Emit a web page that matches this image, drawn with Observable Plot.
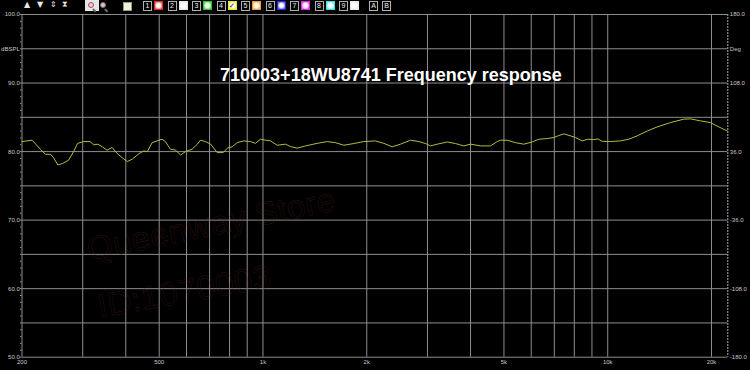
<!DOCTYPE html>
<html><head><meta charset="utf-8">
<script src="https://cdn.jsdelivr.net/npm/d3@7"></script>
<script src="https://cdn.jsdelivr.net/npm/@observablehq/plot@0.6"></script>
<style>
html,body{margin:0;padding:0;background:#000;}
#wrap{position:relative;width:750px;height:370px;overflow:hidden;background:#000;}
#tb{position:absolute;left:0;top:0;width:750px;height:12px;font-family:"DejaVu Sans","Liberation Sans",Arial,sans-serif;}
.t{position:absolute;top:0px;font-size:8px;line-height:10px;color:#e8e8e8;}
.zbox{position:absolute;top:0px;width:14px;height:11px;background:#e6e6e6;}
.mag{position:absolute;top:2px;width:4px;height:4px;border:1.5px solid #b04a5a;border-radius:50%;background:#f2c8d0;}
.mag::after{content:"";position:absolute;left:4px;top:4.5px;width:4px;height:1.6px;background:#6a6a6a;transform:rotate(45deg);transform-origin:left center;}
.cb{position:absolute;top:2px;width:7px;height:7px;background:#f4f2d6;border:1px solid #9a9a8a;}
.nb{position:absolute;top:1px;width:7px;height:8px;border:1px solid #b0b0b0;color:#f0f0f0;font:7px/8px "Liberation Sans",Arial,sans-serif;text-align:center;}
.cs{position:absolute;top:1px;width:9px;height:9px;box-sizing:border-box;border:1px solid #888;}
.wm{position:absolute;font:33px/1 "Liberation Sans",Arial,sans-serif;color:transparent;-webkit-text-stroke:0.5px rgba(95,32,32,0.55);transform-origin:0 0;white-space:nowrap;letter-spacing:0.5px;}
</style></head>
<body>
<div id="wrap">
  <div id="chart"></div>
  <div class="wm" style="left:84px;top:233px;transform:rotate(-11.5deg)">Queenway Store</div>
  <div class="wm" style="left:95px;top:290px;transform:rotate(-10deg)">ID:1070003</div>
  <div id="tb">
    <span class="t" style="left:24px">▲</span>
    <span class="t" style="left:37px">▼</span>
    <span class="t" style="left:50px">⇕</span>
    <span class="t" style="left:62px">⧗</span>
    <div class="zbox" style="left:85px"></div>
    <div class="mag" style="left:88px"></div>
    <div class="mag" style="left:100px;background:#d8c0c8;border-color:#8a6a70"></div>
    <div class="cb" style="left:123px"></div>
  </div>
</div>
<script>
// ---- data ----
const title = "710003+18WU8741 Frequency response";
const freq = [200,214,226,234,242,247,254,262,273,283,290,302,315,323,332,342,353,365,378,395,404,418,437,451,462,477,493,510,521,539,558,577,596,623,645,659,681,705,737,767,788,814,842,880,920,951,984,1017,1052,1100,1163,1202,1257,1329,1437,1536,1623,1716,1834,1961,2120,2242,2370,2506,2680,2832,2962,3062,3202,3424,3618,3824,4000,4276,4571,4780,4886,5110,5402,5710,6040,6312,6676,6976,7212,7458,7798,8064,8432,8754,9112,9360,9638,10186,10890,11512,12178,13020,13918,15210,16624,17386,18586,19866,21000,22220];
const spl = [81.46,81.66,80.35,79.6,79.6,79.1,78.05,78.25,78.75,80.1,81.2,81.46,81.46,80.98,81.08,80.7,80.2,80.6,79.7,78.9,78.55,78.9,79.7,80.1,80.0,81.3,81.56,81.8,81.46,80.35,80.2,79.5,80.0,80.35,81.08,81.66,81.46,81.08,79.85,79.85,80.5,80.7,81.3,81.56,81.46,81.2,81.8,81.66,81.56,80.93,81.08,80.73,80.5,80.83,81.2,81.46,81.3,80.93,81.17,81.46,81.56,81.2,80.7,81.08,81.66,81.46,81.17,80.83,81.08,81.4,81.17,80.83,81.08,80.83,80.83,81.46,81.66,81.66,81.3,81.08,81.4,81.8,81.9,82.05,82.34,82.58,82.3,82.05,81.56,81.8,81.75,81.85,81.5,81.46,81.56,81.8,82.3,83.0,83.6,84.23,84.73,84.77,84.48,84.23,83.6,83.0];
const xDomain = [200, 22300];
const yDomain = [50, 100];
const gridFreqs = [300,400,500,600,700,800,900,1000,2000,3000,4000,5000,6000,7000,8000,9000,10000,20000];
const gridDb = [50,55,60,65,70,75,80,85,90,95,100];
const xTickValues = [200,500,1000,2000,5000,6000,10000,20000];
const xTickLabels = ["200","500","1k","2k","5k","Hz","10k","20k"];
const dbTickValues = [100,95,90,80,70,60,50];
const dbTickLabels = ["100.0","dBSPL","90.0","80.0","70.0","60.0","50.0"];
const degTickLabels = ["180.0","Deg","108.0","36.0","-36.0","-108.0","-180.0"];
const channelLabels = ["1","2","3","4","5","6","7","8","9"];
const channelColors = ["#e02828","#e8e8e8","#28c828","#e8e828","#f0a030","#2828e0","#e028e0","#40e0e0","#e8e8e8"];

// ---- toolbar ----
const tb = document.getElementById("tb");
channelLabels.forEach((lab, i) => {
  const x = 143 + i * 24.5;
  const nb = document.createElement("div");
  nb.className = "nb"; nb.style.left = x + "px"; nb.textContent = lab;
  tb.appendChild(nb);
  const cs = document.createElement("div");
  cs.className = "cs"; cs.style.left = (x + 11) + "px";
  const c = channelColors[i];
  cs.style.background = `radial-gradient(circle, #ffffff 35%, ${c} 100%)`;
  cs.style.borderColor = c;
  if (i === 3) { cs.style.color = "#111"; cs.style.font = "bold 7px/8px 'DejaVu Sans',sans-serif"; cs.style.textAlign = "center"; cs.textContent = "✓"; }
  tb.appendChild(cs);
});
["A","B"].forEach((lab, i) => {
  const nb = document.createElement("div");
  nb.className = "nb"; nb.style.left = (369 + i * 13) + "px"; nb.textContent = lab;
  tb.appendChild(nb);
});

// ---- chart ----
const data = freq.map((f, i) => ({f, spl: spl[i]}));
const leftLabel = new Map(dbTickValues.map((d, i) => [d, dbTickLabels[i]]));
const rightLabel = new Map(dbTickValues.map((d, i) => [d, degTickLabels[i]]));
const xLabel = new Map(xTickValues.map((d, i) => [d, xTickLabels[i]]));
const gridColor = "#8e8e8e";

const chart = Plot.plot({
  width: 750, height: 370,
  marginLeft: 21.5, marginRight: 22.7, marginTop: 14, marginBottom: 13.3,
  style: {background: "#000", color: "#c8c8c8", fontFamily: "'Liberation Sans',Arial,sans-serif", fontSize: "6px", overflow: "visible"},
  x: {type: "log", domain: xDomain, label: null},
  y: {domain: yDomain, label: null},
  marks: [
    Plot.ruleX(gridFreqs, {stroke: gridColor}),
    Plot.ruleY(gridDb, {stroke: gridColor}),
    Plot.ruleX([xDomain[0]], {stroke: gridColor}),
    Plot.ruleX([xDomain[1]], {stroke: "#b0b0b0", strokeDasharray: "2,1"}),
    Plot.axisY({anchor: "left", ticks: d3.range(yDomain[0], yDomain[1] + 1), tickSize: 1.5, tickFormat: () => "", stroke: gridColor, label: null}),
    Plot.axisY({anchor: "left", ticks: dbTickValues, tickSize: 0, tickPadding: 2.2, tickFormat: d => leftLabel.get(d), label: null}),
    Plot.axisY({anchor: "right", ticks: dbTickValues, tickSize: 0, tickPadding: 2, tickFormat: d => rightLabel.get(d), label: null}),
    Plot.axisX({ticks: xTickValues, tickSize: 0, tickPadding: 3, tickFormat: d => xLabel.get(d), label: null}),
    Plot.line(data, {x: "f", y: "spl", stroke: "#b8b844", strokeWidth: 1}),
    Plot.text([title], {text: d => d, frameAnchor: "top", lineAnchor: "middle", dx: 16, dy: 61, fill: "#ffffff", fontSize: 18, fontWeight: "bold", fontFamily: "'Liberation Sans',Arial,sans-serif"})
  ]
});
document.getElementById("chart").appendChild(chart);
</script>
</body></html>
